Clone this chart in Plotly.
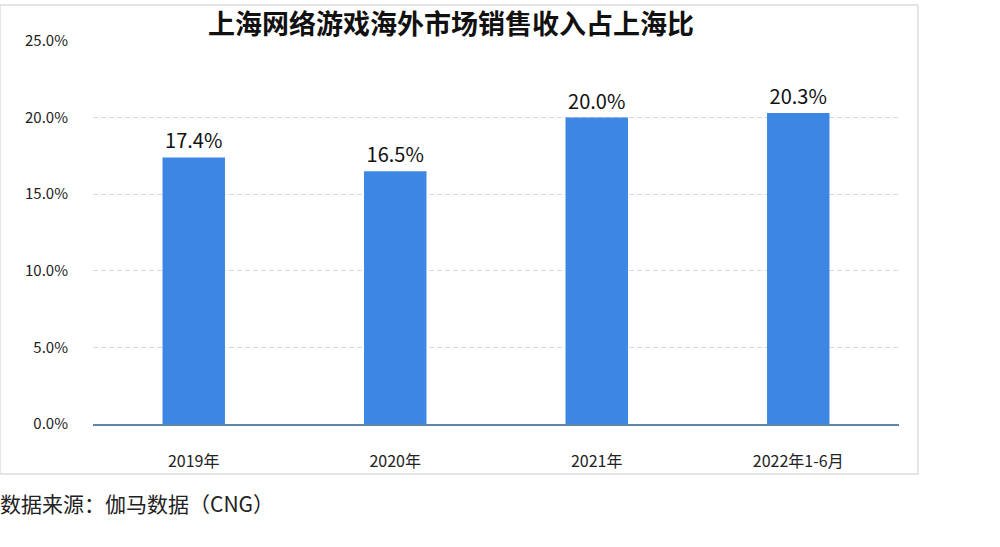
import plotly.graph_objects as go

# Data
categories = ["2019年", "2020年", "2021年", "2022年1-6月"]
shares = [0.174, 0.165, 0.200, 0.203]
share_labels = ["17.4%", "16.5%", "20.0%", "20.3%"]

title_text = "上海网络游戏海外市场销售收入占上海比"
source_text = "数据来源：伽马数据（CNG）"

font_family = "Noto Sans CJK SC, Noto Sans, sans-serif"

fig = go.Figure(go.Bar(
    x=categories,
    y=shares,
    text=share_labels,
    textposition="outside",
    textfont=dict(size=20, color="#111111", family=font_family),
    marker=dict(color="#3d86e4", line=dict(width=0)),
    cliponaxis=False,
))

# pixel -> paper helpers (plot area 93..899 x, 41..424 y)
def px_x(px):
    return (px - 93) / 806

def px_y(py):
    return (424 - py) / 383

fig.update_layout(
    width=1000,
    height=547,
    margin=dict(l=93, r=101, t=41, b=123),
    paper_bgcolor="white",
    plot_bgcolor="white",
    font=dict(family=font_family, color="#222222"),
    bargap=0.69,
    showlegend=False,
    xaxis=dict(
        showgrid=False,
        showline=True,
        linecolor="#5f88a8",
        linewidth=1.5,
        ticks="",
        tickfont=dict(size=16, color="#222222"),
        ticklabelstandoff=22,
    ),
    yaxis=dict(
        range=[0, 0.25],
        dtick=0.05,
        tickformat=".1%",
        showgrid=True,
        gridcolor="#d9d9d9",
        griddash="5px,3px",
        gridwidth=1,
        zeroline=False,
        showline=False,
        tickfont=dict(size=15, color="#222222"),
        ticklabelstandoff=24,
    ),
    shapes=[
        dict(
            type="rect", xref="paper", yref="paper",
            x0=px_x(0), x1=px_x(918), y0=px_y(474), y1=px_y(5),
            line=dict(color="#dddddd", width=1.5),
            fillcolor="rgba(0,0,0,0)",
            layer="below",
        )
    ],
    annotations=[
        dict(
            text="<b>" + title_text + "</b>",
            xref="paper", yref="paper",
            x=px_x(206), y=px_y(22),
            xanchor="left", yanchor="middle",
            showarrow=False,
            font=dict(size=27, color="#111111", family=font_family),
        ),
        dict(
            text=source_text,
            xref="paper", yref="paper",
            x=px_x(-2), y=px_y(503),
            xanchor="left", yanchor="middle",
            showarrow=False,
            font=dict(size=21, color="#222222", family=font_family),
        ),
    ],
)

fig.write_html(
    "out.html",
    config={"displayModeBar": False},
    post_script="document.body.style.margin='0';",
)
